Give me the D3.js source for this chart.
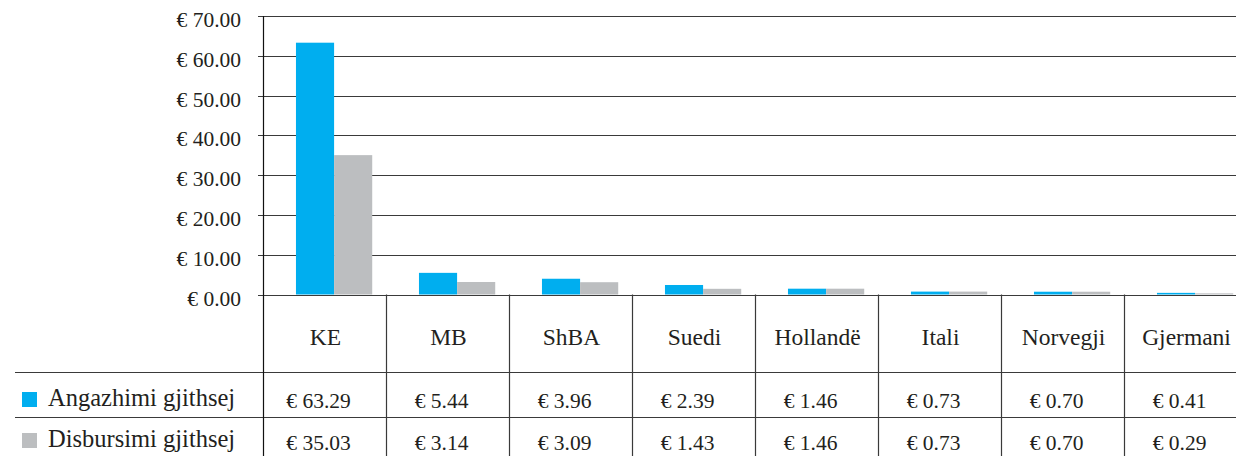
<!DOCTYPE html>
<html>
<head>
<meta charset="utf-8">
<script src="https://cdn.jsdelivr.net/npm/d3@7"></script>
<style>
  html, body { margin: 0; padding: 0; background: #fff; }
  svg { display: block; }
  svg text { font-family: "Liberation Serif", Tinos, serif; fill: #231f20; }
</style>
</head>
<body>
<svg id="chart" width="1236" height="456"></svg>
<script>
// chart data
const categories = ['KE', 'MB', 'ShBA', 'Suedi', 'Hollandë', 'Itali', 'Norvegji', 'Gjermani'];
const seriesNames = ['Angazhimi gjithsej', 'Disbursimi gjithsej'];
const angazhimi = [63.29, 5.44, 3.96, 2.39, 1.46, 0.73, 0.70, 0.41];
const disbursimi = [35.03, 3.14, 3.09, 1.43, 1.46, 0.73, 0.70, 0.29];
const yTicks = [0, 10, 20, 30, 40, 50, 60, 70];

const colors = ['#00aeef', '#bcbec0'];
const lineColor = '#3a3a3a';

const svg = d3.select('#chart');
const width = 1236, height = 456;

const x = d3.scaleBand()
  .domain(categories)
  .range([263, 1247])
  .padding(0);

const y = d3.scaleLinear()
  .domain([0, 70])
  .range([294.5, 16]);

const fmt = d => '€ ' + d3.format('.2f')(d);

// gridlines
svg.append('g')
  .selectAll('line')
  .data(yTicks)
  .enter()
  .append('line')
  .attr('x1', 258)
  .attr('x2', width)
  .attr('y1', d => Math.round(y(d)) + 0.5)
  .attr('y2', d => Math.round(y(d)) + 0.5)
  .attr('stroke', lineColor)
  .attr('stroke-width', 1.2);

// y labels
svg.append('g')
  .selectAll('text')
  .data(yTicks)
  .enter()
  .append('text')
  .attr('x', 241)
  .attr('y', d => y(d) + 11)
  .attr('text-anchor', 'end')
  .style('font-size', '21.5px')
  .text(fmt);

// bars
const bw = x.bandwidth();
const barW = bw * 0.31;
const barOff = bw * 0.268;
const series = [angazhimi, disbursimi];

series.forEach((vals, s) => {
  svg.append('g')
    .selectAll('rect')
    .data(vals)
    .enter()
    .append('rect')
    .attr('x', (d, i) => x(categories[i]) + barOff + s * barW)
    .attr('y', d => y(d))
    .attr('width', barW)
    .attr('height', d => y(0) - y(d))
    .attr('fill', colors[s]);
});

// data table
const rowTop = 294.5, row1 = 372.5, row2 = 417.5;

[row1, row2].forEach(ry => {
  svg.append('line')
    .attr('x1', 15).attr('x2', width)
    .attr('y1', ry).attr('y2', ry)
    .attr('stroke', lineColor)
    .attr('stroke-width', 1.2);
});

// vertical lines (first one is the axis)
svg.append('line')
  .attr('x1', 263.5).attr('x2', 263.5)
  .attr('y1', y(70)).attr('y2', height)
  .attr('stroke', '#111')
  .attr('stroke-width', 1.2);

svg.append('g')
  .selectAll('line')
  .data(categories.slice(1))
  .enter()
  .append('line')
  .attr('x1', d => Math.round(x(d)) + 0.5)
  .attr('x2', d => Math.round(x(d)) + 0.5)
  .attr('y1', rowTop)
  .attr('y2', height)
  .attr('stroke', lineColor)
  .attr('stroke-width', 1.2);

// category header
svg.append('g')
  .selectAll('text')
  .data(categories)
  .enter()
  .append('text')
  .attr('x', d => x(d) + bw / 2 + 1)
  .attr('y', 345)
  .attr('text-anchor', 'middle')
  .style('font-size', '23.5px')
  .text(d => d);

// values rows
series.forEach((vals, s) => {
  svg.append('g')
    .selectAll('text')
    .data(vals)
    .enter()
    .append('text')
    .attr('x', (d, i) => x(categories[i]) + bw / 2 - 6)
    .attr('y', 408 + s * 42)
    .attr('text-anchor', 'middle')
    .style('font-size', '21.5px')
    .text(fmt);
});

// legend keys inside table
seriesNames.forEach((name, s) => {
  const ly = s === 0 ? 392 : 433;
  svg.append('rect')
    .attr('x', 22)
    .attr('y', ly)
    .attr('width', 15)
    .attr('height', 15)
    .attr('fill', colors[s]);
  svg.append('text')
    .attr('x', 48)
    .attr('y', ly + 14)
    .style('font-size', '24.5px')
    .text(name);
});
</script>
</body>
</html>
